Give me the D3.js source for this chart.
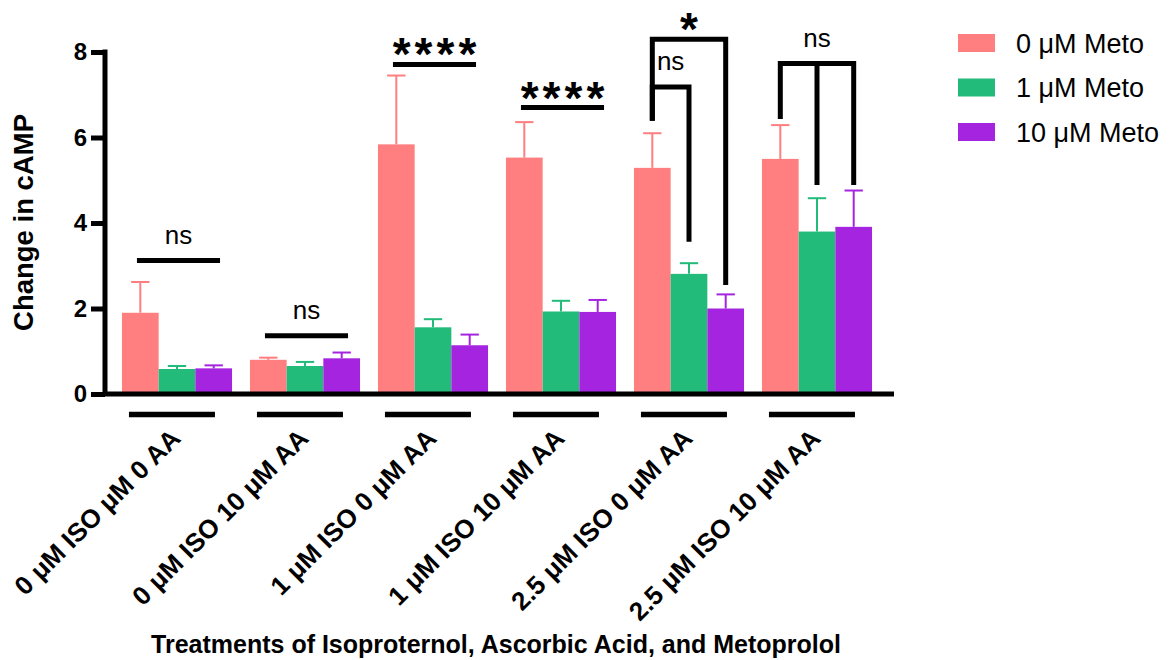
<!DOCTYPE html>
<html lang="en">
<head>
    <meta charset="UTF-8">
    <title>Change in cAMP</title>
    <script type="text/javascript" src="https://cdn.jsdelivr.net/npm/d3@7/dist/d3.min.js"></script>
    <style>
        body { margin: 0; background: #fff; }
        text { font-family: "Liberation Sans", Arial, sans-serif; fill: #000; }
    </style>
</head>
<body>
<svg id="chart" width="1174" height="660"></svg>
<script type="text/javascript">
    // categories and series
    let categories = ['0 μM ISO μM 0 AA', '0 μM ISO 10 μM AA', '1 μM ISO 0 μM AA',
        '1 μM ISO 10 μM AA', '2.5 μM ISO 0 μM AA', '2.5 μM ISO 10 μM AA'];
    let seriesNames = ['0 μM Meto', '1 μM Meto', '10 μM Meto'];
    let seriesColors = ['#ff7f80', '#23bb79', '#a524e0'];

    // means and upper error (SD)
    let meto0 = [1.90, 0.80, 5.84, 5.53, 5.29, 5.50];
    let meto0Err = [0.72, 0.05, 1.61, 0.83, 0.81, 0.79];
    let meto1 = [0.585, 0.655, 1.56, 1.93, 2.81, 3.80];
    let meto1Err = [0.07, 0.095, 0.19, 0.25, 0.25, 0.78];
    let meto10 = [0.60, 0.835, 1.14, 1.92, 2.00, 3.91];
    let meto10Err = [0.07, 0.135, 0.25, 0.28, 0.33, 0.85];

    let yTicks = [0, 2, 4, 6, 8];

    // significance: plain lines over a group
    let sigLines = [
        {group: 0, y: 3.12, label: 'ns'},
        {group: 1, y: 1.36, label: 'ns'},
        {group: 2, y: 7.71, label: '****'},
        {group: 3, y: 6.70, label: '****'}
    ];
    // significance: brackets from one bar to others (ends = bottom of each leg)
    let sigBrackets = [
        {group: 4, bars: [0, 2], top: 8.30, ends: [6.39, 2.55], label: '*'},
        {group: 4, bars: [0, 1], top: 7.18, ends: [6.39, 3.56], label: 'ns'},
        {group: 5, bars: [0, 1, 2], top: 7.73, ends: [6.43, 4.89, 4.89], label: 'ns'}
    ];

    let values = [meto0, meto1, meto10];
    let errors = [meto0Err, meto1Err, meto10Err];

    let svg = d3.select('#chart');

    let x0 = d3.scaleBand()
        .domain(d3.range(categories.length))
        .range([113, 881])
        .paddingInner(0.14)
        .paddingOuter(0.07);
    let x1 = d3.scaleBand()
        .domain(d3.range(seriesNames.length))
        .range([0, x0.bandwidth()])
        .padding(0);
    let y = d3.scaleLinear()
        .domain([0, 8])
        .range([394, 52]);

    // bars
    let bars = [];
    categories.forEach(function (c, g) {
        seriesNames.forEach(function (s, k) {
            bars.push({g: g, k: k, v: values[k][g], e: errors[k][g]});
        });
    });
    let barX = function (d) { return x0(d.g) + x1(d.k); };

    svg.append('g').selectAll('rect')
        .data(bars)
        .enter()
        .append('rect')
        .attr('x', barX)
        .attr('y', function (d) { return y(d.v); })
        .attr('width', x1.bandwidth())
        .attr('height', function (d) { return y(0) - y(d.v); })
        .attr('fill', function (d) { return seriesColors[d.k]; });

    // error bars (upper only)
    let err = svg.append('g').selectAll('g')
        .data(bars)
        .enter()
        .append('g')
        .attr('stroke', function (d) { return seriesColors[d.k]; })
        .attr('stroke-width', 2);
    err.append('line')
        .attr('x1', function (d) { return barX(d) + x1.bandwidth() / 2; })
        .attr('x2', function (d) { return barX(d) + x1.bandwidth() / 2; })
        .attr('y1', function (d) { return y(d.v); })
        .attr('y2', function (d) { return y(d.v + d.e); });
    err.append('line')
        .attr('x1', function (d) { return barX(d) + x1.bandwidth() / 4; })
        .attr('x2', function (d) { return barX(d) + x1.bandwidth() * 3 / 4; })
        .attr('y1', function (d) { return y(d.v + d.e); })
        .attr('y2', function (d) { return y(d.v + d.e); });

    // y axis
    let yAxis = svg.append('g')
        .attr('transform', 'translate(105,0)')
        .call(d3.axisLeft(y).tickValues(yTicks).tickSize(14).tickSizeOuter(0).tickPadding(4));
    yAxis.selectAll('path, line').attr('stroke', '#000').attr('stroke-width', 5);
    yAxis.select('.domain').attr('d', 'M0,' + (y(8) - 2.5) + 'V' + y(0));
    yAxis.selectAll('text')
        .style('font-family', '"Liberation Sans", Arial, sans-serif')
        .style('font-size', '24px')
        .style('font-weight', 'bold')
        .attr('fill', '#000');

    // x axis line
    svg.append('line')
        .attr('x1', 103).attr('x2', 894)
        .attr('y1', y(0)).attr('y2', y(0))
        .attr('stroke', '#000').attr('stroke-width', 5);

    // group underlines and rotated labels
    svg.append('g').selectAll('line')
        .data(categories)
        .enter()
        .append('line')
        .attr('x1', function (d, i) { return x0(i) + 7; })
        .attr('x2', function (d, i) { return x0(i) + 93; })
        .attr('y1', 414.5).attr('y2', 414.5)
        .attr('stroke', '#000').attr('stroke-width', 5.5);

    svg.append('g').selectAll('text')
        .data(categories)
        .enter()
        .append('text')
        .attr('transform', function (d, i) {
            return 'translate(' + (x0(i) + x0.bandwidth() / 2 + 5) + ',440) rotate(-45)';
        })
        .attr('text-anchor', 'end')
        .style('font-size', '26px')
        .style('font-weight', 'bold')
        .text(function (d) { return d; });

    // axis titles
    svg.append('text')
        .attr('transform', 'translate(33,222.5) rotate(-90)')
        .attr('text-anchor', 'middle')
        .style('font-size', '27.5px')
        .style('font-weight', 'bold')
        .text('Change in cAMP');
    svg.append('text')
        .attr('x', 496).attr('y', 653)
        .attr('text-anchor', 'middle')
        .style('font-size', '25px')
        .style('font-weight', 'bold')
        .text('Treatments of Isoproternol, Ascorbic Acid, and Metoprolol');

    // significance labels
    let sigLabel = function (sel, cx, lineY, label) {
        if (label === 'ns') {
            sel.append('text')
                .attr('x', cx).attr('y', lineY - 17)
                .attr('text-anchor', 'middle')
                .style('font-size', '26px')
                .text(label);
        } else {
            sel.append('text')
                .attr('x', cx + 2).attr('y', lineY + 6)
                .attr('text-anchor', 'middle')
                .style('font-size', '46px')
                .style('font-weight', 'bold')
                .style('letter-spacing', '4px')
                .text(label);
        }
    };

    let sig = svg.append('g');
    sigLines.forEach(function (d) {
        let xa = x0(d.group) + 15;
        let xb = x0(d.group) + x0.bandwidth() - 12;
        sig.append('line')
            .attr('x1', xa).attr('x2', xb)
            .attr('y1', y(d.y)).attr('y2', y(d.y))
            .attr('stroke', '#000').attr('stroke-width', 5);
        sigLabel(sig, (xa + xb) / 2, y(d.y), d.label);
    });

    sigBrackets.forEach(function (d) {
        let xs = d.bars.map(function (k) { return x0(d.group) + x1(k) + x1.bandwidth() / 2; });
        let path = d3.path();
        path.moveTo(xs[0], y(d.top));
        path.lineTo(xs[xs.length - 1], y(d.top));
        xs.forEach(function (xx, j) {
            path.moveTo(xx, y(d.top) - 2.5);
            path.lineTo(xx, y(d.ends[j]));
        });
        sig.append('path')
            .attr('d', path.toString())
            .attr('fill', 'none')
            .attr('stroke', '#000')
            .attr('stroke-width', 5);
        sigLabel(sig, (xs[0] + xs[xs.length - 1]) / 2, y(d.top), d.label);
    });

    // legend
    let legend = svg.append('g').selectAll('g')
        .data(seriesNames)
        .enter()
        .append('g')
        .attr('transform', function (d, i) { return 'translate(958,' + (43 + i * 44.5) + ')'; });
    legend.append('rect')
        .attr('x', 0).attr('y', -9)
        .attr('width', 37).attr('height', 18)
        .attr('fill', function (d, i) { return seriesColors[i]; });
    legend.append('text')
        .attr('x', 58).attr('y', 9.5)
        .style('font-size', '27px')
        .text(function (d) { return d; });
</script>
</body>
</html>
